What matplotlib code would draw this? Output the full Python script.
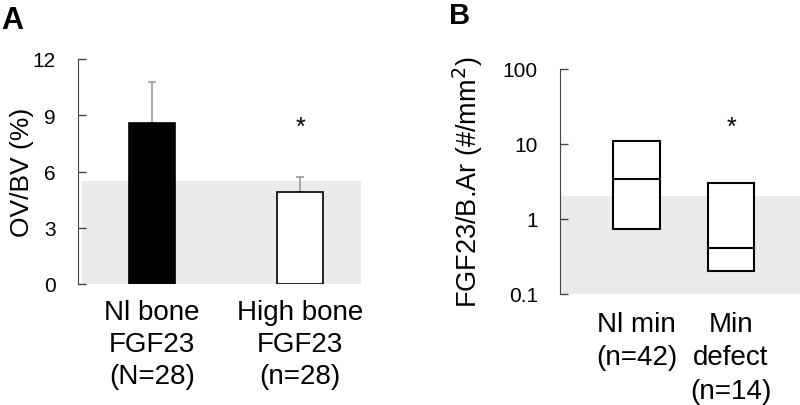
import numpy as np
import matplotlib
matplotlib.use("Agg")
import matplotlib.pyplot as plt

plt.rcParams['font.family'] = ['Liberation Sans', 'DejaVu Sans']

# panel A data
a_labels = ["Nl bone\nFGF23\n(N=28)", "High bone\nFGF23\n(n=28)"]
a_means = [8.6, 4.9]
a_err = [2.2, 0.8]
a_colors = ["black", "white"]
a_normal = 5.5
a_ticks = [0, 3, 6, 9, 12]

# panel B data (log scale boxes: low, median, high)
b_labels = ["Nl min\n(n=42)", "Min\ndefect\n(n=14)"]
b_low = [0.74, 0.2]
b_med = [3.4, 0.41]
b_high = [11, 3.0]
b_normal = (0.1, 2.0)
b_ticks = [0.1, 1, 10, 100]
b_ticklabels = ["0.1", "1", "10", "100"]

axc = "#444444"
fig = plt.figure(figsize=(8, 4.06), dpi=100)

# ---- panel A
ax1 = fig.add_axes([78/800, 121/406, 283/800, 225/406])
x = np.arange(len(a_means))
ax1.axhspan(0, a_normal, xmin=0.014, xmax=1, color="#ebebeb", lw=0, zorder=0)
ax1.bar(x, a_means, width=0.31, color=a_colors, edgecolor="black", lw=1.2, zorder=2)
ax1.errorbar(x, a_means, yerr=[[0, 0], a_err], fmt="none", ecolor="#999999",
             elinewidth=1.2, capsize=3, capthick=1.2, zorder=1)
ax1.text(1, 8.4, "*", ha="center", va="center", fontsize=18)
ax1.set_xlim(-0.5, 1.41)
ax1.set_ylim(0, 12)
ax1.set_yticks(a_ticks)
ax1.set_xticks(x)
ax1.set_xticklabels(a_labels, fontsize=20, linespacing=1.3)
ax1.tick_params(axis="x", length=0, pad=11)
ax1.tick_params(axis="y", direction="in", length=6, width=1, color=axc,
                labelsize=15, pad=16)
ax1.set_ylabel("OV/BV (%)", fontsize=19, labelpad=-1)
for s in ["top", "right", "bottom"]:
    ax1.spines[s].set_visible(False)
ax1.spines["left"].set_color(axc)
fig.text(0.002, 0.985, "A", fontsize=22, fontweight="bold", va="top")

# ---- panel B
ax2 = fig.add_axes([560/800, 111/406, 240/800, 225/406])
ax2.set_yscale("log")
ax2.axhspan(b_normal[0], b_normal[1], color="#ebebeb", lw=0, zorder=0)
xb = np.arange(len(b_med))
for i in range(len(b_med)):
    ax2.bar(xb[i], b_high[i] - b_low[i], bottom=b_low[i], width=0.49,
            color="white", edgecolor="black", lw=1.5, zorder=2)
    ax2.plot([xb[i] - 0.245, xb[i] + 0.245], [b_med[i], b_med[i]],
             color="black", lw=1.5, zorder=3)
ax2.text(1, 17, "*", ha="center", va="center", fontsize=18)
ax2.set_xlim(-0.81, 1.73)
ax2.set_ylim(0.1, 100)
ax2.set_yticks(b_ticks)
ax2.set_yticklabels(b_ticklabels)
ax2.yaxis.set_minor_locator(matplotlib.ticker.NullLocator())
ax2.set_xticks(xb)
ax2.set_xticklabels(b_labels, fontsize=20, linespacing=1.38)
ax2.tick_params(axis="x", length=0, pad=12)
ax2.tick_params(axis="y", direction="in", length=6, width=1, color=axc,
                labelsize=15, pad=16)
ax2.set_ylabel("FGF23/B.Ar (#/mm$^2$)", fontsize=19.5, labelpad=13)
for s in ["top", "right", "bottom"]:
    ax2.spines[s].set_visible(False)
ax2.spines["left"].set_color(axc)
fig.text(449/800, 0.995, "B", fontsize=21, fontweight="bold", va="top")

fig.savefig("out.png", dpi=100)
